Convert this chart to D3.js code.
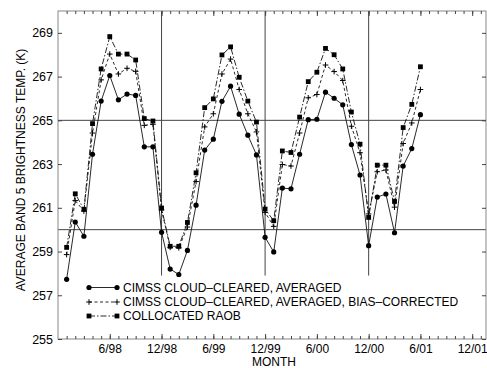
<!DOCTYPE html>
<html>
<head>
<meta charset="utf-8">
<script src="https://cdn.jsdelivr.net/npm/d3@7"></script>
<style>
  body { margin: 0; background: #fff; }
  svg { display: block; font-family: "Liberation Sans", Arial, Helvetica, sans-serif; }
</style>
</head>
<body>
<div id="chart"></div>
<script>
// month index: 0 = 12/97, 1 = 1/98 ... 42 = 6/01
const months = d3.range(1, 43);

const cimss = [
  257.73, 260.35, 259.70, 263.45, 265.88, 267.05, 265.94, 266.20, 266.14, 263.79, 263.79, 259.88,
  258.20, 257.95, 259.05, 261.12, 263.64, 264.14, 265.87, 266.56, 265.28, 264.32, 263.42, 259.65,
  258.98, 261.90, 261.87, 263.45, 265.03, 265.05, 266.29, 266.01, 265.71, 263.89, 262.50, 259.27,
  261.49, 261.63, 259.86, 262.91, 263.71, 265.26
];

const cimssBias = [
  258.86, 261.33, 260.85, 264.42, 266.85, 268.03, 267.12, 267.38, 267.24, 264.77, 264.82, 260.90,
  259.19, 259.17, 260.12, 262.20, 264.70, 265.30, 267.12, 267.80, 266.41, 265.30, 264.47, 260.79,
  260.15, 262.98, 262.91, 264.42, 266.03, 266.18, 267.53, 267.23, 266.82, 264.73, 263.52, 260.72,
  262.65, 262.73, 261.03, 263.94, 264.88, 266.41
];

const raob = [
  259.19, 261.64, 260.93, 264.85, 267.35, 268.83, 268.03, 268.03, 267.76, 265.08, 264.97, 260.99,
  259.24, 259.24, 260.33, 262.60, 265.58, 265.98, 267.99, 268.36, 266.97, 265.88, 264.92, 260.94,
  260.41, 263.60, 263.53, 265.15, 266.77, 267.20, 268.29, 268.00, 267.35, 265.38, 263.91, 260.56,
  262.95, 262.95, 261.29, 264.67, 265.73, 267.45
];

const xTickMonths = [6, 12, 18, 24, 30, 36, 42, 48];
const xTickLabels = ['6/98', '12/98', '6/99', '12/99', '6/00', '12/00', '6/01', '12/01'];
const yTicks = [255, 257, 259, 261, 263, 265, 267, 269];
const refTemps = [265, 260];
const yearBreaks = [12, 24, 36];

const legendLabels = [
  'CIMSS CLOUD\u2013CLEARED, AVERAGED',
  'CIMSS CLOUD\u2013CLEARED, AVERAGED, BIAS\u2013CORRECTED',
  'COLLOCATED RAOB'
];

const W = 487, H = 368;
const margin = { top: 11, right: 1, bottom: 29, left: 58 };

const svg = d3.select('#chart').append('svg')
  .attr('width', W)
  .attr('height', H);

const x = d3.scaleLinear()
  .domain([0, 49.6])
  .range([margin.left, W - margin.right]);

const y = d3.scaleLinear()
  .domain([255, 270])
  .range([H - margin.bottom, margin.top]);

const axisColor = '#444';

// reference lines
svg.append('g')
  .selectAll('line')
  .data(refTemps)
  .join('line')
  .attr('x1', x.range()[0])
  .attr('x2', x.range()[1])
  .attr('y1', d => y(d))
  .attr('y2', d => y(d))
  .attr('stroke', axisColor)
  .attr('stroke-width', 1);

svg.append('g')
  .selectAll('line')
  .data(yearBreaks)
  .join('line')
  .attr('x1', d => x(d))
  .attr('x2', d => x(d))
  .attr('y1', y(270))
  .attr('y2', y(257.9))
  .attr('stroke', axisColor)
  .attr('stroke-width', 1);

// frame
svg.append('rect')
  .attr('x', x.range()[0])
  .attr('y', y(270))
  .attr('width', x.range()[1] - x.range()[0])
  .attr('height', y(255) - y(270))
  .attr('fill', 'none')
  .attr('stroke', '#888')
  .attr('stroke-width', 1);

// x ticks, monthly minor, labelled every 6 months
const allMonths = d3.range(1, 50);
svg.append('g')
  .call(d3.axisBottom(x).tickValues(allMonths).tickSize(-3).tickFormat(''))
  .attr('transform', `translate(0,${y(255)})`)
  .call(g => g.select('.domain').remove())
  .selectAll('line').attr('stroke', axisColor);

svg.append('g')
  .call(d3.axisTop(x).tickValues(allMonths).tickSize(-3).tickFormat(''))
  .attr('transform', `translate(0,${y(270)})`)
  .call(g => g.select('.domain').remove())
  .selectAll('line').attr('stroke', axisColor);

svg.append('g')
  .attr('transform', `translate(0,${y(255)})`)
  .call(d3.axisBottom(x).tickValues(xTickMonths).tickSize(-5).tickPadding(5)
    .tickFormat((d, i) => xTickLabels[i]))
  .call(g => g.select('.domain').remove())
  .call(g => g.selectAll('line').attr('stroke', axisColor))
  .selectAll('text')
    .style('fill', '#000')
    .style('font-size', '12px')
    .style('font-family', '"Liberation Sans", Arial, sans-serif');

svg.append('g')
  .attr('transform', `translate(0,${y(270)})`)
  .call(d3.axisTop(x).tickValues(xTickMonths).tickSize(-5).tickFormat(''))
  .call(g => g.select('.domain').remove())
  .selectAll('line').attr('stroke', axisColor);

// y ticks
svg.append('g')
  .attr('transform', `translate(${x.range()[0]},0)`)
  .call(d3.axisLeft(y).tickValues(yTicks).tickSize(-4).tickPadding(5).tickFormat(d3.format('d')))
  .call(g => g.select('.domain').remove())
  .call(g => g.selectAll('line').attr('stroke', axisColor))
  .selectAll('text')
    .style('fill', '#000')
    .style('font-size', '12.5px')
    .style('font-family', '"Liberation Sans", Arial, sans-serif');

svg.append('g')
  .attr('transform', `translate(${x.range()[1]},0)`)
  .call(d3.axisRight(y).tickValues(yTicks).tickSize(-4).tickFormat(''))
  .call(g => g.select('.domain').remove())
  .selectAll('line').attr('stroke', axisColor);

// axis titles
svg.append('text')
  .attr('x', 274)
  .attr('y', 366)
  .attr('text-anchor', 'middle')
  .style('font-size', '12px')
  .text('MONTH');

svg.append('text')
  .attr('transform', `translate(25,170) rotate(-90)`)
  .attr('text-anchor', 'middle')
  .style('font-size', '12px')
  .text('AVERAGE BAND 5 BRIGHTNESS TEMP. (K)');

// series
const series = [
  { values: cimss, dash: null, marker: 'circle' },
  { values: cimssBias, dash: '3,2.5', marker: 'plus' },
  { values: raob, dash: '6,2,1.5,2', marker: 'square' }
];

const line = d3.line()
  .x((d, i) => x(months[i]))
  .y(d => y(d));

function drawMarker(g, type, cx, cy) {
  if (type === 'circle') {
    g.append('circle').attr('cx', cx).attr('cy', cy).attr('r', 2.6).attr('fill', '#000');
  } else if (type === 'square') {
    g.append('rect').attr('x', cx - 2.4).attr('y', cy - 2.4)
      .attr('width', 4.8).attr('height', 4.8).attr('fill', '#000');
  } else {
    g.append('path')
      .attr('d', `M${cx - 2.8},${cy}H${cx + 2.8}M${cx},${cy - 2.8}V${cy + 2.8}`)
      .attr('stroke', '#000').attr('stroke-width', 1);
  }
}

series.forEach(s => {
  svg.append('path')
    .datum(s.values)
    .attr('d', line)
    .attr('fill', 'none')
    .attr('stroke', '#111')
    .attr('stroke-width', 0.9)
    .attr('stroke-dasharray', s.dash);

  const mg = svg.append('g');
  s.values.forEach((v, i) => drawMarker(mg, s.marker, x(months[i]), y(v)));
});

// legend
const legendY = [287.5, 302, 316];
const legend = svg.append('g');
series.forEach((s, i) => {
  const ly = legendY[i];
  legend.append('line')
    .attr('x1', 89).attr('x2', 117)
    .attr('y1', ly).attr('y2', ly)
    .attr('stroke', '#111')
    .attr('stroke-width', 0.9)
    .attr('stroke-dasharray', s.dash);
  drawMarker(legend, s.marker, 89, ly);
  drawMarker(legend, s.marker, 117, ly);
  legend.append('text')
    .attr('x', 123)
    .attr('y', ly + 4.3)
    .style('font-size', '12px')
    .text(legendLabels[i]);
});
</script>
</body>
</html>
